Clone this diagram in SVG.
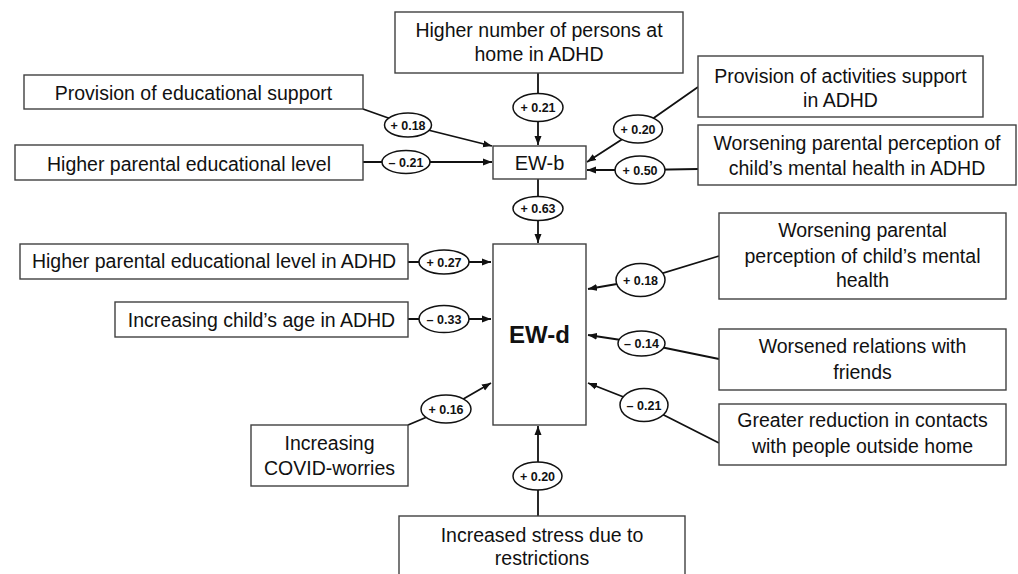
<svg xmlns="http://www.w3.org/2000/svg" width="1018" height="574" viewBox="0 0 1018 574">
<style>
.box{fill:#fff;stroke:#404040;stroke-width:1.4}
.t{font-family:"Liberation Sans",Arial,sans-serif;font-size:19.5px;fill:#111;text-anchor:middle}
.c{fill:none;stroke:#111;stroke-width:1.8}
.el{fill:#fff;stroke:#111;stroke-width:1.5}
.lb{font-family:"Liberation Sans",Arial,sans-serif;font-size:12.5px;font-weight:bold;fill:#111;text-anchor:middle}
</style>
<defs>
<marker id="ah" markerUnits="userSpaceOnUse" markerWidth="10" markerHeight="8" refX="9" refY="4" orient="auto">
<path d="M0,0.5 L9,4 L0,7.5 Z" fill="#111"/>
</marker>
</defs>
<rect width="1018" height="574" fill="#fff"/>
<g id="connectors">
<path class="c" d="M363,109 L408,125 L492,146" marker-end="url(#ah)"/>
<path class="c" d="M363,162 L492,162" marker-end="url(#ah)"/>
<path class="c" d="M538,73 L538,145" marker-end="url(#ah)"/>
<path class="c" d="M698,87 L638,129 L587,162" marker-end="url(#ah)"/>
<path class="c" d="M698,169 L640,170 L587,170" marker-end="url(#ah)"/>
<path class="c" d="M538,179 L538,243" marker-end="url(#ah)"/>
<path class="c" d="M408,262 L491,262" marker-end="url(#ah)"/>
<path class="c" d="M408,319 L491,319" marker-end="url(#ah)"/>
<path class="c" d="M408,425 L446,409 L491,383" marker-end="url(#ah)"/>
<path class="c" d="M538,516 L538,426" marker-end="url(#ah)"/>
<path class="c" d="M719,256 L640,280 L588,289" marker-end="url(#ah)"/>
<path class="c" d="M719,359 L641,343 L588,335" marker-end="url(#ah)"/>
<path class="c" d="M719,443 L644,405 L588,383" marker-end="url(#ah)"/>
<ellipse class="el" cx="408" cy="125" rx="23.5" ry="12"/><text class="lb" x="408" y="129.5">+ 0.18</text>
<ellipse class="el" cx="406" cy="162" rx="24" ry="11.5"/><text class="lb" x="406" y="166.5">– 0.21</text>
<ellipse class="el" cx="538" cy="107.5" rx="25" ry="14"/><text class="lb" x="538" y="112">+ 0.21</text>
<ellipse class="el" cx="638" cy="129" rx="24.5" ry="14"/><text class="lb" x="638" y="133.5">+ 0.20</text>
<ellipse class="el" cx="640" cy="170" rx="25" ry="14"/><text class="lb" x="640" y="174.5">+ 0.50</text>
<ellipse class="el" cx="538" cy="208.5" rx="25" ry="12"/><text class="lb" x="538" y="213">+ 0.63</text>
<ellipse class="el" cx="444" cy="262" rx="25" ry="12"/><text class="lb" x="444" y="266.5">+ 0.27</text>
<ellipse class="el" cx="444" cy="319" rx="25" ry="13.5"/><text class="lb" x="444" y="323.5">– 0.33</text>
<ellipse class="el" cx="446" cy="409" rx="25" ry="14"/><text class="lb" x="446" y="413.5">+ 0.16</text>
<ellipse class="el" cx="537.5" cy="476" rx="24.5" ry="14"/><text class="lb" x="537.5" y="480.5">+ 0.20</text>
<ellipse class="el" cx="640.5" cy="280" rx="24.5" ry="16.5"/><text class="lb" x="640.5" y="284.5">+ 0.18</text>
<ellipse class="el" cx="641.5" cy="343.5" rx="23.5" ry="12.5"/><text class="lb" x="641.5" y="348">– 0.14</text>
<ellipse class="el" cx="644" cy="405" rx="24" ry="16.5"/><text class="lb" x="644" y="409.5">– 0.21</text>
</g>
<g id="n-persons"><rect class="box" x="395" y="12" width="288" height="61"/><text class="t" x="539" y="37">Higher number of persons at</text><text class="t" x="539" y="61">home in ADHD</text></g>
<g id="n-edsupport"><rect class="box" x="24" y="75" width="339" height="34"/><text class="t" x="193.5" y="99.5">Provision of educational support</text></g>
<g id="n-parented"><rect class="box" x="15" y="145" width="348" height="35"/><text class="t" x="189" y="170.5">Higher parental educational level</text></g>
<g id="n-ewb"><rect class="box" x="493" y="146" width="93" height="33"/><text class="t" x="539.5" y="170" style="font-size:20px">EW-b</text></g>
<g id="n-activities"><rect class="box" x="698" y="56" width="285" height="61"/><text class="t" x="840.5" y="83">Provision of activities support</text><text class="t" x="840.5" y="107">in ADHD</text></g>
<g id="n-perceptadhd"><rect class="box" x="698" y="125" width="318" height="60"/><text class="t" x="857" y="150">Worsening parental perception of</text><text class="t" x="857" y="175">child’s mental health in ADHD</text></g>
<g id="n-ewd"><rect class="box" x="493" y="244" width="93" height="181"/><text class="t" x="539.5" y="343" style="font-size:24px;font-weight:bold">EW-d</text></g>
<g id="n-parentedadhd"><rect class="box" x="20" y="244" width="388" height="35"/><text class="t" x="214" y="268">Higher parental educational level in ADHD</text></g>
<g id="n-age"><rect class="box" x="115" y="302" width="293" height="35"/><text class="t" x="261.5" y="327">Increasing child’s age in ADHD</text></g>
<g id="n-covid"><rect class="box" x="251" y="425" width="157" height="61"/><text class="t" x="329.5" y="450">Increasing</text><text class="t" x="329.5" y="475">COVID-worries</text></g>
<g id="n-stress"><rect class="box" x="399" y="516" width="286" height="70"/><text class="t" x="542" y="542">Increased stress due to</text><text class="t" x="542" y="565">restrictions</text></g>
<g id="n-percept"><rect class="box" x="719" y="213" width="287" height="86"/><text class="t" x="862.5" y="237">Worsening parental</text><text class="t" x="862.5" y="263">perception of child’s mental</text><text class="t" x="862.5" y="287">health</text></g>
<g id="n-friends"><rect class="box" x="719" y="329" width="287" height="61"/><text class="t" x="862.5" y="353">Worsened relations with</text><text class="t" x="862.5" y="379">friends</text></g>
<g id="n-contacts"><rect class="box" x="719" y="404" width="287" height="61"/><text class="t" x="862.5" y="427">Greater reduction in contacts</text><text class="t" x="862.5" y="453">with people outside home</text></g>
</svg>
